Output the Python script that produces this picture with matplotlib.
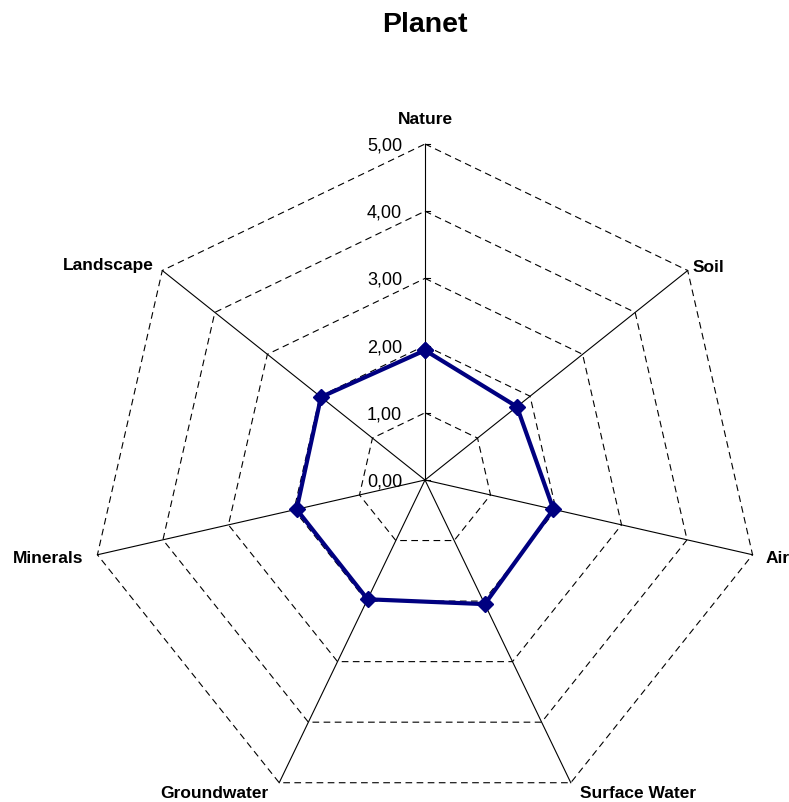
import numpy as np
import matplotlib.pyplot as plt

plt.rcParams['font.family'] = ['Liberation Sans', 'DejaVu Sans']

categories = ['Nature', 'Soil', 'Air', 'Surface Water', 'Groundwater', 'Minerals', 'Landscape']
values = [1.93, 1.75, 1.96, 2.05, 1.97, 1.96, 1.98]
levels = [0, 1, 2, 3, 4, 5]
level_labels = ['0,00', '1,00', '2,00', '3,00', '4,00', '5,00']

# label placement (pixel offsets from outer vertex, alignment)
label_pos = {
    'Nature': (0, 25, 'center'),
    'Soil': (5, 4, 'left'),
    'Air': (13, -3, 'left'),
    'Surface Water': (9, -10, 'left'),
    'Groundwater': (-11, -10, 'right'),
    'Minerals': (-14, -3, 'right'),
    'Landscape': (-9, 6, 'right'),
}

n = len(categories)
ang = np.pi / 2 - np.arange(n) * 2 * np.pi / n
cx, cy = np.cos(ang), np.sin(ang)

W, H = 789, 803
px = 67.2  # pixels per unit
fig = plt.figure(figsize=(W / 100, H / 100), dpi=100)
ax = fig.add_axes([0, 0, 1, 1])
ax.set_xlim(-425 / px, (W - 425) / px)
ax.set_ylim(-(H - 481) / px, 481 / px)
ax.axis('off')

# grid polygons
for lv in levels[1:]:
    xs = np.append(cx * lv, cx[0] * lv)
    ys = np.append(cy * lv, cy[0] * lv)
    ax.plot(xs, ys, color='black', lw=0.8, dashes=(6, 4))

# spokes
for i in range(n):
    ax.plot([0, cx[i] * 5], [0, cy[i] * 5], color='black', lw=0.8)

# tick marks on the value axis
for lv in levels:
    ax.plot([0, 5 / px], [lv, lv], color='black', lw=0.8)

# value labels
for lv, t in zip(levels, level_labels):
    ax.text(-23 / px, lv - 1 / px, t, ha='right', va='center', fontsize=13)

# category labels
for i, c in enumerate(categories):
    dx, dy, ha = label_pos[c]
    ax.text(cx[i] * 5 + dx / px, cy[i] * 5 + dy / px, c, ha=ha, va='center',
            fontsize=12.5, fontweight='bold')

# data
vx = np.append(cx * values, cx[0] * values[0])
vy = np.append(cy * values, cy[0] * values[0])
ax.plot(vx, vy, color='#000080', lw=3, marker='D', markersize=8, zorder=5)

fig.text(425 / W, 1 - 25 / H, 'Planet', ha='center', va='center', fontsize=20.5, fontweight='bold')

fig.savefig('out.png', dpi=100)
